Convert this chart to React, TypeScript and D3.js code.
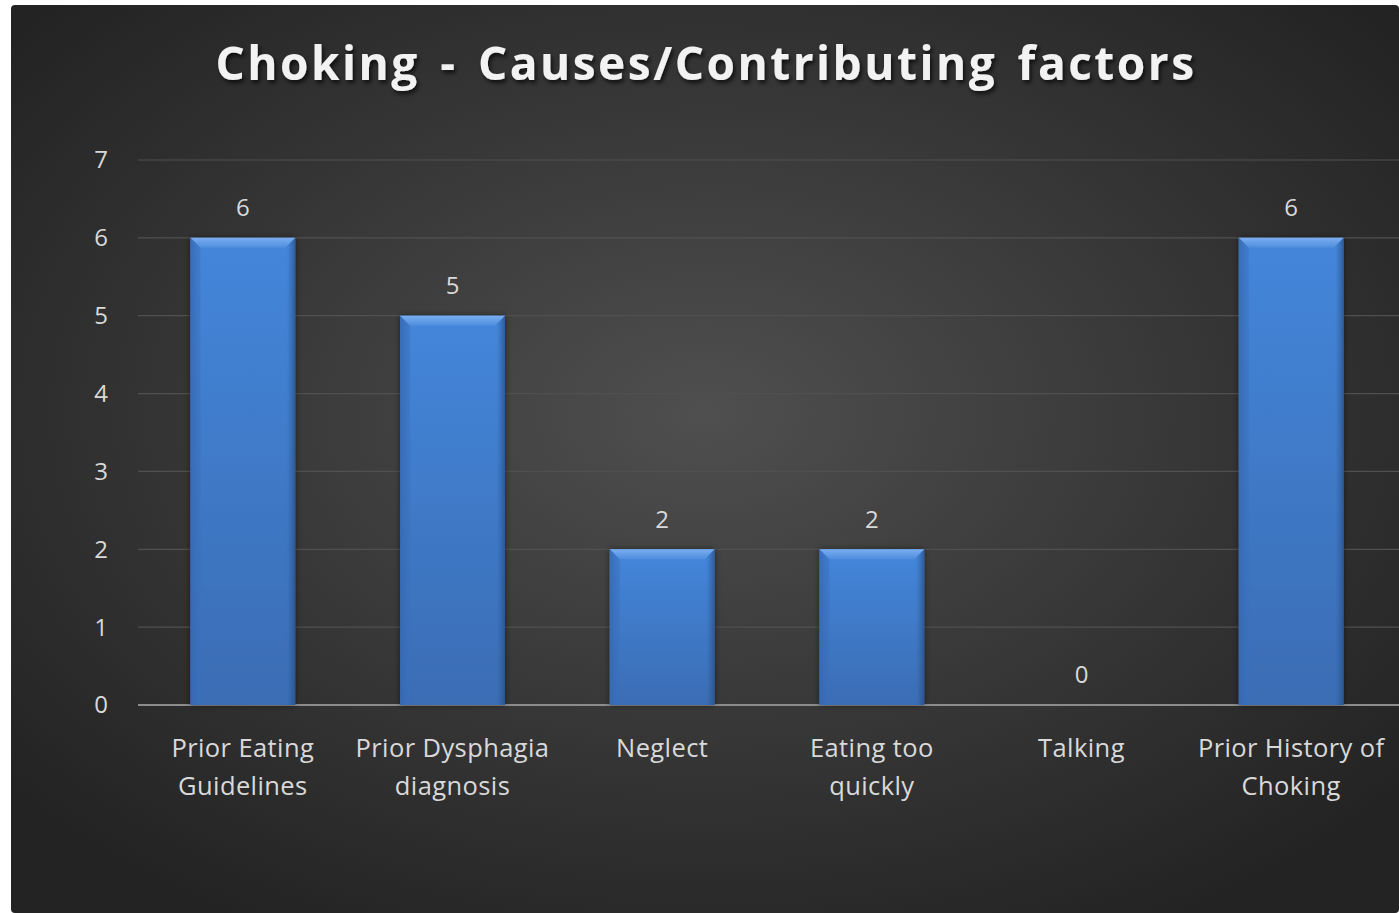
import * as d3 from 'd3';

const categories = [
  ['Prior Eating', 'Guidelines'],
  ['Prior Dysphagia', 'diagnosis'],
  ['Neglect'],
  ['Eating too', 'quickly'],
  ['Talking'],
  ['Prior History of', 'Choking'],
];
const values = [6, 5, 2, 2, 0, 6];
const yTicks = [0, 1, 2, 3, 4, 5, 6, 7];
const title = 'Choking - Causes/Contributing factors';

const W = 1399;
const H = 913;

export default function App() {
  const x = d3.scaleBand<number>()
    .domain(d3.range(values.length))
    .range([138, 1396])
    .paddingInner(0.5)
    .paddingOuter(0.25);
  const y = d3.scaleLinear().domain([0, 7]).range([705, 160]);
  const bw = x.bandwidth();
  const bev = 10; // bevel size at bar top

  return (
    <svg width={W} height={H} style={{ position: 'absolute', left: 0, top: 0 }}>
      <defs>
        <radialGradient id="bg" cx="50%" cy="45%" r="65%">
          <stop offset="0%" stopColor="#4f4f4f" />
          <stop offset="60%" stopColor="#343434" />
          <stop offset="100%" stopColor="#232323" />
        </radialGradient>
        <linearGradient id="barFill" x1="0" y1="0" x2="0" y2="1">
          <stop offset="0%" stopColor="#4486da" />
          <stop offset="100%" stopColor="#3a6db4" />
        </linearGradient>
        <linearGradient id="barSide" x1="0" y1="0" x2="1" y2="0">
          <stop offset="0%" stopColor="#2f5b99" stopOpacity={0.6} />
          <stop offset="8%" stopColor="#2f5b99" stopOpacity={0} />
          <stop offset="92%" stopColor="#2f5b99" stopOpacity={0} />
          <stop offset="100%" stopColor="#24497f" stopOpacity={0.7} />
        </linearGradient>
        <linearGradient id="bevelTop" x1="0" y1="0" x2="0" y2="1">
          <stop offset="0%" stopColor="#7aaef0" />
          <stop offset="100%" stopColor="#4d8ddd" />
        </linearGradient>
        <filter id="shadow" x="-10%" y="-30%" width="120%" height="160%">
          <feDropShadow dx="2" dy="3" stdDeviation="2" floodColor="#000" floodOpacity="0.7" />
        </filter>
        <filter id="barShadow" x="-20%" y="-5%" width="140%" height="110%">
          <feDropShadow dx="0" dy="0" stdDeviation="3" floodColor="#000" floodOpacity="0.5" />
        </filter>
      </defs>
      <rect x={0} y={0} width={W} height={H} fill="#ffffff" />
      <rect x={11} y={5} width={W - 11} height={H - 5} rx={4} fill="url(#bg)" />

      <text
        x={706}
        y={80}
        textAnchor="middle"
        fill="#f2f2f2"
        filter="url(#shadow)"
        style={{
          fontFamily: '"Open Sans", sans-serif',
          fontWeight: 700,
          fontSize: 46,
          letterSpacing: 2.5,
          wordSpacing: 6,
        }}
      >
        {title}
      </text>

      {yTicks.map(t => (
        <g key={t}>
          <line
            x1={138}
            x2={W}
            y1={y(t)}
            y2={y(t)}
            stroke={t === 0 ? '#8c8c8c' : '#505050'}
            strokeWidth={t === 0 ? 2 : 1.2}
          />
          <text
            x={108}
            y={y(t)}
            dy="0.35em"
            textAnchor="end"
            fill="#d9d9d9"
            style={{ fontFamily: '"Open Sans", sans-serif', fontSize: 24 }}
          >
            {t}
          </text>
        </g>
      ))}

      {values.map((v, i) => {
        const x0 = x(i) as number;
        const top = y(v);
        const h = y(0) - top;
        const cx = x0 + bw / 2;
        return (
          <g key={i}>
            {h > 0 && (
              <g>
                <rect x={x0} y={top} width={bw} height={h} fill="url(#barFill)" filter="url(#barShadow)" />
                <rect x={x0} y={top} width={bw} height={h} fill="url(#barSide)" />
                <polygon
                  points={`${x0},${top} ${x0 + bw},${top} ${x0 + bw - bev},${top + bev} ${x0 + bev},${top + bev}`}
                  fill="url(#bevelTop)"
                />
                <polygon
                  points={`${x0},${top} ${x0 + bev},${top + bev} ${x0 + bev},${top + h} ${x0},${top + h}`}
                  fill="#3a70bd"
                  opacity={0.5}
                />
              </g>
            )}
            <text
              x={cx}
              y={top - 30}
              dy="0.35em"
              textAnchor="middle"
              fill="#d9d9d9"
              style={{ fontFamily: '"Open Sans", sans-serif', fontSize: 24 }}
            >
              {v}
            </text>
            {categories[i].map((line, k) => (
              <text
                key={k}
                x={cx}
                y={748 + k * 38}
                dy="0.35em"
                textAnchor="middle"
                fill="#d9d9d9"
                style={{ fontFamily: '"Open Sans", sans-serif', fontSize: 25.5, letterSpacing: 0.4 }}
              >
                {line}
              </text>
            ))}
          </g>
        );
      })}
    </svg>
  );
}
